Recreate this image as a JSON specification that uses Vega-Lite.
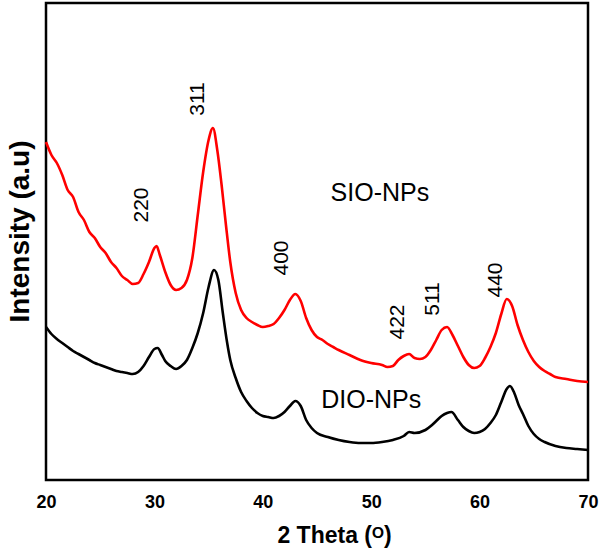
{
  "$schema": "https://vega.github.io/schema/vega-lite/v6.json",
  "autosize": "none",
  "width": 542,
  "height": 477,
  "padding": {"left": 46, "top": 3, "right": 12, "bottom": 80},
  "background": "white",
  "config": {
    "view": {"stroke": "black", "strokeWidth": 2.5},
    "font": "Liberation Sans"
  },
  "datasets": {
    "curves": [
      {"theta": 20.0, "intensity": 338, "sample": "SIO-NPs"},
      {"theta": 20.5, "intensity": 325, "sample": "SIO-NPs"},
      {"theta": 21.0, "intensity": 317, "sample": "SIO-NPs"},
      {"theta": 21.5, "intensity": 305, "sample": "SIO-NPs"},
      {"theta": 22.0, "intensity": 290, "sample": "SIO-NPs"},
      {"theta": 22.5, "intensity": 283, "sample": "SIO-NPs"},
      {"theta": 23.0, "intensity": 268, "sample": "SIO-NPs"},
      {"theta": 23.5, "intensity": 260, "sample": "SIO-NPs"},
      {"theta": 24.0, "intensity": 248, "sample": "SIO-NPs"},
      {"theta": 24.5, "intensity": 242, "sample": "SIO-NPs"},
      {"theta": 25.0, "intensity": 233, "sample": "SIO-NPs"},
      {"theta": 25.5, "intensity": 227, "sample": "SIO-NPs"},
      {"theta": 26.0, "intensity": 218, "sample": "SIO-NPs"},
      {"theta": 26.5, "intensity": 212, "sample": "SIO-NPs"},
      {"theta": 27.0, "intensity": 204, "sample": "SIO-NPs"},
      {"theta": 27.5, "intensity": 200, "sample": "SIO-NPs"},
      {"theta": 28.0, "intensity": 196, "sample": "SIO-NPs"},
      {"theta": 28.5, "intensity": 197, "sample": "SIO-NPs"},
      {"theta": 29.0, "intensity": 206, "sample": "SIO-NPs"},
      {"theta": 29.5, "intensity": 218, "sample": "SIO-NPs"},
      {"theta": 30.0, "intensity": 232, "sample": "SIO-NPs"},
      {"theta": 30.2, "intensity": 234, "sample": "SIO-NPs"},
      {"theta": 30.5, "intensity": 225, "sample": "SIO-NPs"},
      {"theta": 31.0, "intensity": 208, "sample": "SIO-NPs"},
      {"theta": 31.5, "intensity": 195, "sample": "SIO-NPs"},
      {"theta": 32.0, "intensity": 190, "sample": "SIO-NPs"},
      {"theta": 32.5, "intensity": 192, "sample": "SIO-NPs"},
      {"theta": 33.0, "intensity": 200, "sample": "SIO-NPs"},
      {"theta": 33.5, "intensity": 222, "sample": "SIO-NPs"},
      {"theta": 34.0, "intensity": 265, "sample": "SIO-NPs"},
      {"theta": 34.5, "intensity": 308, "sample": "SIO-NPs"},
      {"theta": 35.0, "intensity": 340, "sample": "SIO-NPs"},
      {"theta": 35.4, "intensity": 352, "sample": "SIO-NPs"},
      {"theta": 35.8, "intensity": 330, "sample": "SIO-NPs"},
      {"theta": 36.2, "intensity": 295, "sample": "SIO-NPs"},
      {"theta": 36.6, "intensity": 255, "sample": "SIO-NPs"},
      {"theta": 37.0, "intensity": 218, "sample": "SIO-NPs"},
      {"theta": 37.5, "intensity": 187, "sample": "SIO-NPs"},
      {"theta": 38.0, "intensity": 170, "sample": "SIO-NPs"},
      {"theta": 38.5, "intensity": 162, "sample": "SIO-NPs"},
      {"theta": 39.0, "intensity": 158, "sample": "SIO-NPs"},
      {"theta": 39.5, "intensity": 155, "sample": "SIO-NPs"},
      {"theta": 40.0, "intensity": 153, "sample": "SIO-NPs"},
      {"theta": 40.5, "intensity": 154, "sample": "SIO-NPs"},
      {"theta": 41.0, "intensity": 156, "sample": "SIO-NPs"},
      {"theta": 41.5, "intensity": 162, "sample": "SIO-NPs"},
      {"theta": 42.0, "intensity": 170, "sample": "SIO-NPs"},
      {"theta": 42.5, "intensity": 180, "sample": "SIO-NPs"},
      {"theta": 43.0, "intensity": 186, "sample": "SIO-NPs"},
      {"theta": 43.5, "intensity": 179, "sample": "SIO-NPs"},
      {"theta": 44.0, "intensity": 162, "sample": "SIO-NPs"},
      {"theta": 44.5, "intensity": 150, "sample": "SIO-NPs"},
      {"theta": 45.0, "intensity": 143, "sample": "SIO-NPs"},
      {"theta": 45.5, "intensity": 140, "sample": "SIO-NPs"},
      {"theta": 46.0, "intensity": 136, "sample": "SIO-NPs"},
      {"theta": 46.5, "intensity": 133, "sample": "SIO-NPs"},
      {"theta": 47.0, "intensity": 130, "sample": "SIO-NPs"},
      {"theta": 48.0, "intensity": 125, "sample": "SIO-NPs"},
      {"theta": 49.0, "intensity": 120, "sample": "SIO-NPs"},
      {"theta": 50.0, "intensity": 117, "sample": "SIO-NPs"},
      {"theta": 51.0, "intensity": 115, "sample": "SIO-NPs"},
      {"theta": 51.5, "intensity": 113, "sample": "SIO-NPs"},
      {"theta": 52.0, "intensity": 114, "sample": "SIO-NPs"},
      {"theta": 52.5, "intensity": 120, "sample": "SIO-NPs"},
      {"theta": 53.0, "intensity": 124, "sample": "SIO-NPs"},
      {"theta": 53.5, "intensity": 126, "sample": "SIO-NPs"},
      {"theta": 54.0, "intensity": 122, "sample": "SIO-NPs"},
      {"theta": 54.5, "intensity": 121, "sample": "SIO-NPs"},
      {"theta": 55.0, "intensity": 123, "sample": "SIO-NPs"},
      {"theta": 55.5, "intensity": 130, "sample": "SIO-NPs"},
      {"theta": 56.0, "intensity": 140, "sample": "SIO-NPs"},
      {"theta": 56.5, "intensity": 150, "sample": "SIO-NPs"},
      {"theta": 57.0, "intensity": 153, "sample": "SIO-NPs"},
      {"theta": 57.5, "intensity": 145, "sample": "SIO-NPs"},
      {"theta": 58.0, "intensity": 134, "sample": "SIO-NPs"},
      {"theta": 58.5, "intensity": 123, "sample": "SIO-NPs"},
      {"theta": 59.0, "intensity": 115, "sample": "SIO-NPs"},
      {"theta": 59.5, "intensity": 112, "sample": "SIO-NPs"},
      {"theta": 60.0, "intensity": 114, "sample": "SIO-NPs"},
      {"theta": 60.5, "intensity": 122, "sample": "SIO-NPs"},
      {"theta": 61.0, "intensity": 133, "sample": "SIO-NPs"},
      {"theta": 61.5, "intensity": 147, "sample": "SIO-NPs"},
      {"theta": 62.0, "intensity": 166, "sample": "SIO-NPs"},
      {"theta": 62.5, "intensity": 181, "sample": "SIO-NPs"},
      {"theta": 63.0, "intensity": 174, "sample": "SIO-NPs"},
      {"theta": 63.5, "intensity": 155, "sample": "SIO-NPs"},
      {"theta": 64.0, "intensity": 140, "sample": "SIO-NPs"},
      {"theta": 64.5, "intensity": 128, "sample": "SIO-NPs"},
      {"theta": 65.0, "intensity": 119, "sample": "SIO-NPs"},
      {"theta": 65.5, "intensity": 113, "sample": "SIO-NPs"},
      {"theta": 66.0, "intensity": 109, "sample": "SIO-NPs"},
      {"theta": 66.5, "intensity": 106, "sample": "SIO-NPs"},
      {"theta": 67.0, "intensity": 103, "sample": "SIO-NPs"},
      {"theta": 68.0, "intensity": 101, "sample": "SIO-NPs"},
      {"theta": 69.0, "intensity": 99, "sample": "SIO-NPs"},
      {"theta": 70.0, "intensity": 98, "sample": "SIO-NPs"},
      {"theta": 20.0, "intensity": 153, "sample": "DIO-NPs"},
      {"theta": 20.5, "intensity": 146, "sample": "DIO-NPs"},
      {"theta": 21.0, "intensity": 141, "sample": "DIO-NPs"},
      {"theta": 21.5, "intensity": 137, "sample": "DIO-NPs"},
      {"theta": 22.0, "intensity": 133, "sample": "DIO-NPs"},
      {"theta": 22.5, "intensity": 129, "sample": "DIO-NPs"},
      {"theta": 23.0, "intensity": 126, "sample": "DIO-NPs"},
      {"theta": 23.5, "intensity": 123, "sample": "DIO-NPs"},
      {"theta": 24.0, "intensity": 120, "sample": "DIO-NPs"},
      {"theta": 24.5, "intensity": 117, "sample": "DIO-NPs"},
      {"theta": 25.0, "intensity": 115, "sample": "DIO-NPs"},
      {"theta": 25.5, "intensity": 113, "sample": "DIO-NPs"},
      {"theta": 26.0, "intensity": 111, "sample": "DIO-NPs"},
      {"theta": 26.5, "intensity": 109, "sample": "DIO-NPs"},
      {"theta": 27.0, "intensity": 108, "sample": "DIO-NPs"},
      {"theta": 27.5, "intensity": 107, "sample": "DIO-NPs"},
      {"theta": 28.0, "intensity": 106, "sample": "DIO-NPs"},
      {"theta": 28.5, "intensity": 108, "sample": "DIO-NPs"},
      {"theta": 29.0, "intensity": 114, "sample": "DIO-NPs"},
      {"theta": 29.5, "intensity": 123, "sample": "DIO-NPs"},
      {"theta": 30.0, "intensity": 131, "sample": "DIO-NPs"},
      {"theta": 30.3, "intensity": 132, "sample": "DIO-NPs"},
      {"theta": 30.7, "intensity": 125, "sample": "DIO-NPs"},
      {"theta": 31.0, "intensity": 119, "sample": "DIO-NPs"},
      {"theta": 31.5, "intensity": 114, "sample": "DIO-NPs"},
      {"theta": 32.0, "intensity": 111, "sample": "DIO-NPs"},
      {"theta": 32.5, "intensity": 114, "sample": "DIO-NPs"},
      {"theta": 33.0, "intensity": 120, "sample": "DIO-NPs"},
      {"theta": 33.5, "intensity": 132, "sample": "DIO-NPs"},
      {"theta": 34.0, "intensity": 147, "sample": "DIO-NPs"},
      {"theta": 34.5, "intensity": 167, "sample": "DIO-NPs"},
      {"theta": 35.0, "intensity": 193, "sample": "DIO-NPs"},
      {"theta": 35.5, "intensity": 210, "sample": "DIO-NPs"},
      {"theta": 35.9, "intensity": 200, "sample": "DIO-NPs"},
      {"theta": 36.3, "intensity": 168, "sample": "DIO-NPs"},
      {"theta": 36.7, "intensity": 138, "sample": "DIO-NPs"},
      {"theta": 37.0, "intensity": 120, "sample": "DIO-NPs"},
      {"theta": 37.5, "intensity": 102, "sample": "DIO-NPs"},
      {"theta": 38.0, "intensity": 88, "sample": "DIO-NPs"},
      {"theta": 38.5, "intensity": 79, "sample": "DIO-NPs"},
      {"theta": 39.0, "intensity": 72, "sample": "DIO-NPs"},
      {"theta": 39.5, "intensity": 67, "sample": "DIO-NPs"},
      {"theta": 40.0, "intensity": 64, "sample": "DIO-NPs"},
      {"theta": 40.5, "intensity": 63, "sample": "DIO-NPs"},
      {"theta": 41.0, "intensity": 62, "sample": "DIO-NPs"},
      {"theta": 41.5, "intensity": 64, "sample": "DIO-NPs"},
      {"theta": 42.0, "intensity": 68, "sample": "DIO-NPs"},
      {"theta": 42.5, "intensity": 74, "sample": "DIO-NPs"},
      {"theta": 43.0, "intensity": 79, "sample": "DIO-NPs"},
      {"theta": 43.5, "intensity": 74, "sample": "DIO-NPs"},
      {"theta": 44.0, "intensity": 60, "sample": "DIO-NPs"},
      {"theta": 44.5, "intensity": 52, "sample": "DIO-NPs"},
      {"theta": 45.0, "intensity": 47, "sample": "DIO-NPs"},
      {"theta": 46.0, "intensity": 43, "sample": "DIO-NPs"},
      {"theta": 47.0, "intensity": 40, "sample": "DIO-NPs"},
      {"theta": 48.0, "intensity": 38, "sample": "DIO-NPs"},
      {"theta": 49.0, "intensity": 37, "sample": "DIO-NPs"},
      {"theta": 50.0, "intensity": 37, "sample": "DIO-NPs"},
      {"theta": 51.0, "intensity": 38, "sample": "DIO-NPs"},
      {"theta": 52.0, "intensity": 40, "sample": "DIO-NPs"},
      {"theta": 53.0, "intensity": 44, "sample": "DIO-NPs"},
      {"theta": 53.5, "intensity": 48, "sample": "DIO-NPs"},
      {"theta": 54.0, "intensity": 47, "sample": "DIO-NPs"},
      {"theta": 55.0, "intensity": 50, "sample": "DIO-NPs"},
      {"theta": 55.5, "intensity": 54, "sample": "DIO-NPs"},
      {"theta": 56.0, "intensity": 59, "sample": "DIO-NPs"},
      {"theta": 56.5, "intensity": 64, "sample": "DIO-NPs"},
      {"theta": 57.0, "intensity": 67, "sample": "DIO-NPs"},
      {"theta": 57.4, "intensity": 68, "sample": "DIO-NPs"},
      {"theta": 58.0, "intensity": 60, "sample": "DIO-NPs"},
      {"theta": 58.5, "intensity": 53, "sample": "DIO-NPs"},
      {"theta": 59.0, "intensity": 49, "sample": "DIO-NPs"},
      {"theta": 59.5, "intensity": 47, "sample": "DIO-NPs"},
      {"theta": 60.0, "intensity": 48, "sample": "DIO-NPs"},
      {"theta": 60.5, "intensity": 51, "sample": "DIO-NPs"},
      {"theta": 61.0, "intensity": 57, "sample": "DIO-NPs"},
      {"theta": 61.5, "intensity": 65, "sample": "DIO-NPs"},
      {"theta": 62.0, "intensity": 78, "sample": "DIO-NPs"},
      {"theta": 62.5, "intensity": 91, "sample": "DIO-NPs"},
      {"theta": 62.8, "intensity": 94, "sample": "DIO-NPs"},
      {"theta": 63.2, "intensity": 87, "sample": "DIO-NPs"},
      {"theta": 63.6, "intensity": 75, "sample": "DIO-NPs"},
      {"theta": 64.0, "intensity": 66, "sample": "DIO-NPs"},
      {"theta": 64.5, "intensity": 54, "sample": "DIO-NPs"},
      {"theta": 65.0, "intensity": 46, "sample": "DIO-NPs"},
      {"theta": 65.5, "intensity": 41, "sample": "DIO-NPs"},
      {"theta": 66.0, "intensity": 38, "sample": "DIO-NPs"},
      {"theta": 67.0, "intensity": 34, "sample": "DIO-NPs"},
      {"theta": 68.0, "intensity": 32, "sample": "DIO-NPs"},
      {"theta": 69.0, "intensity": 31, "sample": "DIO-NPs"},
      {"theta": 70.0, "intensity": 30, "sample": "DIO-NPs"}
    ],
    "peaks": [
      {"theta": 28.9, "intensity": 275, "label": "220"},
      {"theta": 34.0, "intensity": 381, "label": "311"},
      {"theta": 41.8, "intensity": 222, "label": "400"},
      {"theta": 52.5, "intensity": 158, "label": "422"},
      {"theta": 55.7, "intensity": 181, "label": "511"},
      {"theta": 61.5, "intensity": 200, "label": "440"}
    ],
    "names": [
      {"theta": 50.8, "intensity": 279, "label": "SIO-NPs"},
      {"theta": 50.0, "intensity": 72, "label": "DIO-NPs"}
    ],
    "majorTicks": [
      {"theta": 30}, {"theta": 40}, {"theta": 50}, {"theta": 60}
    ],
    "minorTicks": [
      {"theta": 25}, {"theta": 35}, {"theta": 45}, {"theta": 55}, {"theta": 65}
    ]
  },
  "encoding": {
    "x": {
      "field": "theta",
      "type": "quantitative",
      "scale": {"domain": [20, 70], "nice": false, "zero": false},
      "axis": {
        "title": "2 Theta (ᴼ)",
        "values": [20, 30, 40, 50, 60, 70],
        "ticks": false,
        "domain": false,
        "grid": false,
        "labelFontSize": 18,
        "labelFontWeight": "bold",
        "labelColor": "black",
        "labelPadding": 13,
        "labelFlush": false,
        "titleFontSize": 23,
        "titleFontWeight": "bold",
        "titleColor": "black",
        "titlePadding": 13,
        "titleX": 288
      }
    },
    "y": {
      "field": "intensity",
      "type": "quantitative",
      "scale": {"domain": [0, 477], "nice": false, "zero": false},
      "axis": {
        "title": "Intensity (a.u)",
        "labels": false,
        "ticks": false,
        "domain": false,
        "grid": false,
        "titleFontSize": 28,
        "titleFontWeight": "bold",
        "titleColor": "black",
        "titlePadding": 12,
        "titleY": 228
      }
    }
  },
  "layer": [
    {
      "data": {"name": "majorTicks"},
      "mark": {"type": "rule", "color": "black", "strokeWidth": 2.5},
      "encoding": {"y": {"datum": 0}, "y2": {"datum": 9}}
    },
    {
      "data": {"name": "minorTicks"},
      "mark": {"type": "rule", "color": "black", "strokeWidth": 2.5},
      "encoding": {"y": {"datum": 0}, "y2": {"datum": 6}}
    },
    {
      "data": {"name": "curves"},
      "mark": {"type": "line", "strokeWidth": 2.6, "interpolate": "monotone"},
      "encoding": {
        "color": {
          "field": "sample",
          "type": "nominal",
          "scale": {"domain": ["SIO-NPs", "DIO-NPs"], "range": ["#ff0000", "#000000"]},
          "legend": null
        },
        "detail": {"field": "sample"}
      }
    },
    {
      "data": {"name": "peaks"},
      "mark": {"type": "text", "angle": 270, "fontSize": 21, "align": "center", "baseline": "middle", "color": "black"},
      "encoding": {"text": {"field": "label"}}
    },
    {
      "data": {"name": "names"},
      "mark": {"type": "text", "fontSize": 25, "align": "center", "baseline": "alphabetic", "color": "black"},
      "encoding": {"text": {"field": "label"}}
    }
  ]
}
